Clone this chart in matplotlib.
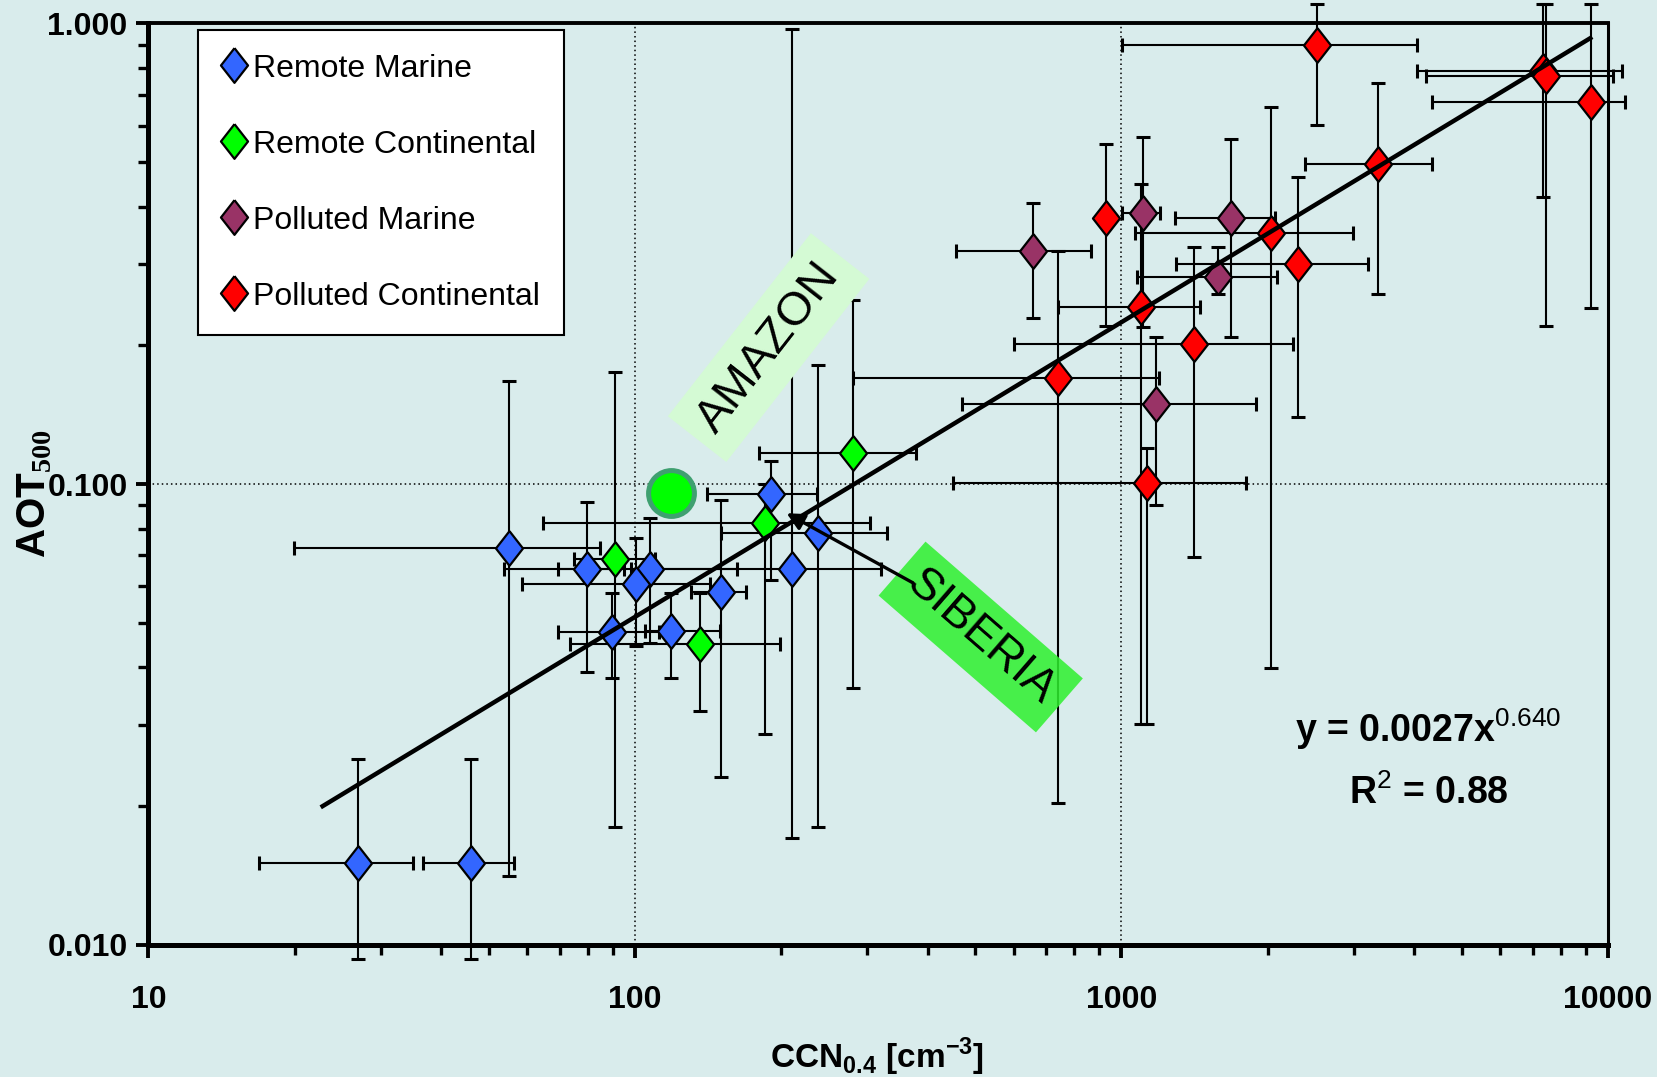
import numpy as np
import matplotlib
matplotlib.use('Agg')
import matplotlib.pyplot as plt

plt.rcParams['font.family'] = ['Liberation Sans', 'DejaVu Sans']
plt.rcParams['mathtext.fontset'] = 'custom'
plt.rcParams['mathtext.rm'] = 'Liberation Sans'
plt.rcParams['mathtext.sf'] = 'Liberation Sans:bold'
plt.rcParams['mathtext.bf'] = 'Liberation Serif:bold'

bg = '#d9ecec'

# ---- data (x, y, and absolute error-bar limits) ----
rm_x = [27.0, 46.1, 55.0, 79.6, 107.4, 100.5, 89.8, 118.6, 150.5, 190.3, 238.2, 210.2]
rm_y = [0.015, 0.015, 0.0725, 0.0654, 0.0654, 0.0607, 0.0478, 0.048, 0.0582, 0.0951, 0.0782, 0.0654]
rm_xlo = [16.9, 36.7, 19.9, 69.6, 53.8, 58.5, 69.6, 105, 130.2, 140.4, 150, 98]
rm_xhi = [35.0, 56.4, 84.7, 95, 161.8, 142.6, 112, 149.5, 168.9, 237, 330, 320]
rm_ylo = [0.0093, 0.0093, 0.0141, 0.039, 0.0452, 0.0444, 0.038, 0.038, 0.0231, 0.0619, 0.018, 0.017]
rm_yhi = [0.0253, 0.0253, 0.1676, 0.0915, 0.0845, 0.0762, 0.0581, 0.0581, 0.0923, 0.1122, 0.1816, 0.975]

rc_x = [91.0, 185, 281, 136]
rc_y = [0.0686, 0.0821, 0.1169, 0.0449]
rc_xlo = [75, 64.6, 179.8, 73.5]
rc_xhi = [110, 304, 378, 198.6]
rc_ylo = [0.018, 0.0286, 0.0361, 0.0321]
rc_yhi = [0.175, 0.1, 0.251, 0.0581]

pm_x = [658.6, 1106, 1680, 1577, 1177]
pm_y = [0.3207, 0.3884, 0.3788, 0.282, 0.149]
pm_xlo = [458, 1000.7, 1291, 1078, 470.8]
pm_xhi = [865, 1200, 2068, 2085, 1890]
pm_ylo = [0.229, 0.2196, 0.209, 0.259, 0.09]
pm_yhi = [0.4083, 0.568, 0.5605, 0.327, 0.209]

pc_x = [2518, 929, 2029, 2302, 1095, 1411, 741.6, 1127, 3372, 7340, 7450, 9226]
pc_y = [0.898, 0.3788, 0.350, 0.2999, 0.2427, 0.201, 0.1696, 0.1003, 0.4954, 0.79, 0.77, 0.676]
pc_xlo = [1000.7, 929, 1066, 1296, 741, 601, 280.5, 449.8, 2383, 4042, 4236, 4355]
pc_xhi = [4042, 929, 2985, 3205, 1450, 2256, 1196, 1803, 4355, 10670, 10260, 10840]
pc_ylo = [0.602, 0.2203, 0.0398, 0.1397, 0.0301, 0.0695, 0.0203, 0.0301, 0.259, 0.419, 0.22, 0.2407]
pc_yhi = [1.1, 0.5467, 0.659, 0.463, 0.448, 0.327, 0.32, 0.12, 0.741, 1.1, 1.1, 1.1]

fit_a, fit_b = 0.0027, 0.640
fit_xmin, fit_xmax = 22.8, 9200

amazon_x, amazon_y = 118.4, 0.0958
siberia_from = (372.8, 0.061)
siberia_to = (205, 0.0864)

groups = [
    ('Remote Marine', '#3366ff', rm_x, rm_y, rm_xlo, rm_xhi, rm_ylo, rm_yhi),
    ('Remote Continental', '#00ff00', rc_x, rc_y, rc_xlo, rc_xhi, rc_ylo, rc_yhi),
    ('Polluted Marine', '#993366', pm_x, pm_y, pm_xlo, pm_xhi, pm_ylo, pm_yhi),
    ('Polluted Continental', '#ff0000', pc_x, pc_y, pc_xlo, pc_xhi, pc_ylo, pc_yhi),
]

diamond = [(0, 1), (0.78, 0), (0, -1), (-0.78, 0), (0, 1)]

fig = plt.figure(figsize=(16.57, 10.77), dpi=100, facecolor=bg)
ax = fig.add_axes([0.0896, 0.1230, 0.8808, 0.8552], facecolor=bg)
ax.set_xscale('log')
ax.set_yscale('log')
ax.set_xlim(10, 10000)
ax.set_ylim(0.01, 1)

ax.grid(True, which='major', color='black', linestyle=(0, (1, 2)), linewidth=1.1)
ax.set_axisbelow(True)

handles = []
for label, color, x, y, xlo, xhi, ylo, yhi in groups:
    x = np.array(x); y = np.array(y)
    xerr = [x - np.array(xlo), np.array(xhi) - x]
    yerr = [y - np.array(ylo), np.array(yhi) - y]
    eb = ax.errorbar(x, y, xerr=xerr, yerr=yerr, fmt='none', ecolor='black',
                     elinewidth=1.5, capsize=5, capthick=2.2, zorder=2)
    for art in list(eb.lines[1]) + list(eb.lines[2]):
        art.set_clip_on(False)
    h, = ax.plot(x, y, ls='none', marker=diamond, ms=25, mfc=color, mec='black',
                 mew=1.6, zorder=4, label=label)
    handles.append(h)

# power-law fit
fx = np.geomspace(fit_xmin, fit_xmax, 200)
ax.plot(fx, fit_a * fx ** fit_b, color='black', lw=3.2, zorder=5)

# Amazon point
ax.plot([amazon_x], [amazon_y], 'o', ms=33, mfc='#00ff00', mec='#3fa070', mew=3.6, zorder=6)

ax.text(188.2, 0.1978, 'AMAZON', rotation=52, rotation_mode='anchor', ha='center', va='center',
        fontsize=34, zorder=3,
        bbox=dict(boxstyle='square,pad=0.32', fc='#d4fad4', ec='none'))
ax.text(513.7, 0.04654, 'SIBERIA', rotation=-41, rotation_mode='anchor', ha='center', va='center',
        fontsize=33, zorder=3,
        bbox=dict(boxstyle='square,pad=0.3', fc='#2ef02e', ec='none', alpha=0.85))
ax.annotate('', xy=siberia_to, xytext=siberia_from,
            arrowprops=dict(arrowstyle='-|>', color='black', lw=2.4, mutation_scale=26,
                            shrinkA=0, shrinkB=0), zorder=7)

ax.text(0.877, 0.234, r'y = 0.0027x$^{\mathrm{0.640}}$', transform=ax.transAxes,
        ha='center', va='center', fontsize=27, fontweight='bold')
ax.text(0.877, 0.1645, r'R$^{\mathrm{2}}$ = 0.88', transform=ax.transAxes,
        ha='center', va='center', fontsize=27, fontweight='bold')

# axes styling
for side, lw in [('left', 3.6), ('bottom', 3.6), ('top', 2.8), ('right', 2.2)]:
    ax.spines[side].set_linewidth(lw)
ax.tick_params(which='major', direction='out', length=9, width=2.8, labelsize=23)
ax.tick_params(which='minor', direction='out', length=7, width=2.4)
ax.tick_params(axis='x', which='major', pad=20)
ax.tick_params(axis='y', which='major', pad=6)

ax.set_xticks([10, 100, 1000, 10000])
ax.set_xticklabels(['10', '100', '1000', '10000'], fontweight='bold')
ax.set_yticks([0.01, 0.1, 1])
ax.set_yticklabels(['0.010', '0.100', '1.000'], fontweight='bold')

ax.set_ylabel(r'AOT$_{\mathbf{500}}$', fontweight='bold', fontsize=29)
ax.yaxis.set_label_coords(-0.078, 0.49)
ax.yaxis.label.set_va('center')
ax.set_xlabel(r'CCN$_{\mathsf{0.4}}$ [cm$^{\mathsf{-3}}$]', fontweight='bold', fontsize=24)
ax.xaxis.set_label_coords(0.499, -0.122)
ax.xaxis.label.set_va('center')

leg = ax.legend(handles=handles, loc='upper left', bbox_to_anchor=(0.0336, 0.9934),
                borderaxespad=0, fontsize=23, labelspacing=1.44, handlelength=0.8,
                handletextpad=0.2, borderpad=0.75, fancybox=False, framealpha=1,
                edgecolor='black')
leg.get_frame().set_linewidth(1.5)
leg.set_zorder(10)

fig.savefig('out.png', dpi=100, facecolor=bg)
